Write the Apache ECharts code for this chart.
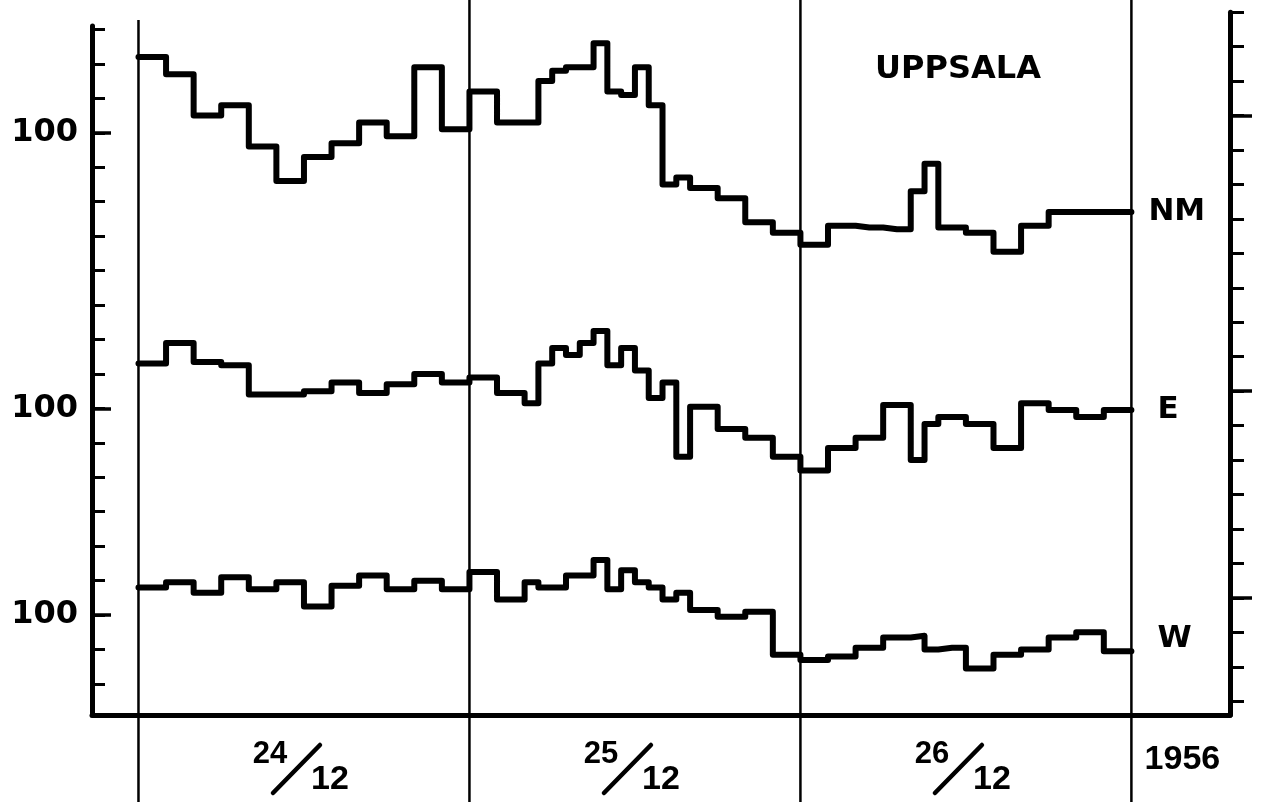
<!DOCTYPE html>
<html>
<head>
<meta charset="utf-8">
<title>Uppsala 24-26/12 1956</title>
<script src="https://cdn.jsdelivr.net/npm/echarts@6/dist/echarts.min.js"></script>
<style>
  html, body { margin: 0; padding: 0; background: #fff; }
  #main { width: 1266px; height: 802px; }
</style>
</head>
<body>
<div id="main"></div>
<script>
// hourly means, % of normal, from 00h 24/12 to 24h 26/12 1956
var nmValues = [
  102.2,102.2,101.7,101.7,100.5,100.5,100.8,100.8,99.6,99.6,98.6,98.6,
  99.3,99.3,99.7,99.7,100.3,100.3,99.9,99.9,101.9,101.9,100.1,100.1,
  101.2,101.2,100.3,100.3,100.3,101.5,101.8,101.9,101.9,102.6,101.2,101.1,
  101.9,100.8,98.5,98.7,98.4,98.4,98.1,98.1,97.4,97.4,97.1,97.1,
  96.75,96.75,97.3,97.3,97.25,97.25,97.2,97.2,98.3,99.1,97.25,97.25,
  97.1,97.1,96.55,96.55,97.3,97.3,97.7,97.7,97.7,97.7,97.7,97.7
];
var eValues = [
  101.3,101.3,101.9,101.9,101.35,101.35,101.25,101.25,100.4,100.4,100.4,100.4,
  100.5,100.5,100.75,100.75,100.45,100.45,100.7,100.7,101.0,101.0,100.75,100.75,
  100.9,100.9,100.45,100.45,100.15,101.3,101.75,101.55,101.9,102.25,101.25,101.75,
  101.1,100.3,100.75,98.6,100.05,100.05,99.4,99.4,99.15,99.15,98.6,98.6,
  98.2,98.2,98.85,98.85,99.15,99.15,100.1,100.1,98.5,99.55,99.75,99.75,
  99.55,99.55,98.85,98.85,100.15,100.15,99.95,99.95,99.75,99.75,99.95,99.95
];
var wValues = [
  100.8,100.8,100.95,100.95,100.65,100.65,101.1,101.1,100.75,100.75,100.95,100.95,
  100.25,100.25,100.85,100.85,101.15,101.15,100.75,100.75,101.0,101.0,100.75,100.75,
  101.25,101.25,100.45,100.45,100.95,100.8,100.8,101.15,101.15,101.6,100.75,101.3,
  100.95,100.8,100.45,100.65,100.15,100.15,99.95,99.95,100.1,100.1,98.85,98.85,
  98.7,98.7,98.8,98.8,99.05,99.05,99.35,99.35,99.4,99.0,99.05,99.05,
  98.45,98.45,98.85,98.85,99.0,99.0,99.35,99.35,99.5,99.5,98.95,98.95
];
var seriesNames = ['NM', 'E', 'W'];
var dayStarts = [0, 24, 48, 72];          // hours
var dayNumbers = ['24', '25', '26'];
var monthLabel = '12';
var yearLabel = '1956';
var refLabel = '100';

// layout: each curve has its own 100 % level on a shared 1 %-per-tick scale
var levelOf100 = { NM: 17, E: 9, W: 3 };   // tick index of each 100 % line
var PX_PER_TICK = 34.45;
var AXIS_Y = 715;
var Y_MIN = 0.1, Y_MAX_LEFT = 20.1, Y_MAX_RIGHT = 20.5;
var X_MIN = -3.37, X_MAX = 79.15;
var FONT = 'Liberation Sans, Arial, sans-serif';
var HEAVY = 'DejaVu Sans, sans-serif';

function steps(vals, name) {
  var d = vals.map(function (v, i) { return [i, v - 100 + levelOf100[name]]; });
  d.push([vals.length, d[d.length - 1][1]]);
  return d;
}

function range(a, b) {
  var r = [];
  for (var v = a; v <= b + 1e-9; v += 1) r.push(v);
  return r;
}

var leftTicks = range(1, 20);
var rightTicks = range(0.5, 20.5);
var refTicks = [levelOf100.W, levelOf100.E, levelOf100.NM];
var refTicksRight = refTicks.map(function (t) { return t + 0.5; });

var chart = echarts.init(document.getElementById('main'));

var black = '#000';
var lineSeries = [nmValues, eValues, wValues].map(function (vals, k) {
  var name = seriesNames[k];
  return {
    name: name,
    type: 'line',
    step: 'end',
    xAxisIndex: 0,
    yAxisIndex: 0,
    symbol: 'none',
    data: steps(vals, name),
    lineStyle: { color: black, width: 6, join: 'round', cap: 'round' },
    endLabel: {
      show: true,
      formatter: name,
      distance: name === 'NM' ? 17 : 26,
      offset: name === 'W' ? [0, -12] : [0, 0],
      color: black,
      fontFamily: HEAVY,
      fontWeight: 'bold',
      fontSize: 31
    },
    silent: true
  };
});

var option = {
  backgroundColor: '#fff',
  animation: false,
  grid: [
    { left: 92, right: 36, bottom: 802 - AXIS_Y, top: AXIS_Y - (Y_MAX_LEFT - Y_MIN) * PX_PER_TICK },
    { left: 92, right: 36, bottom: 802 - AXIS_Y, top: AXIS_Y - (Y_MAX_RIGHT - Y_MIN) * PX_PER_TICK }
  ],
  xAxis: [
    {
      gridIndex: 0, type: 'value', min: X_MIN, max: X_MAX,
      axisLine: { onZero: false, lineStyle: { color: black, width: 5 } },
      axisTick: { show: false },
      splitLine: { show: false },
      axisLabel: {
        customValues: [75.7],
        formatter: function () { return yearLabel; },
        margin: 28,
        color: black, fontFamily: FONT, fontWeight: 'bold', fontSize: 34
      }
    },
    { gridIndex: 1, type: 'value', min: X_MIN, max: X_MAX, show: false }
  ],
  yAxis: [
    {
      gridIndex: 0, type: 'value', position: 'left', min: Y_MIN, max: Y_MAX_LEFT,
      axisLine: { show: true, onZero: false, lineStyle: { color: black, width: 5 } },
      axisTick: { show: true, inside: true, length: 13, customValues: leftTicks, lineStyle: { color: black, width: 3 } },
      axisLabel: { show: false },
      splitLine: { show: false }
    },
    {
      gridIndex: 0, type: 'value', position: 'left', min: Y_MIN, max: Y_MAX_LEFT,
      axisLine: { show: false, onZero: false },
      axisTick: { show: true, inside: true, length: 19, customValues: refTicks, lineStyle: { color: black, width: 3.5 } },
      axisLabel: {
        customValues: refTicks,
        formatter: function () { return refLabel; },
        margin: 14, color: black, fontFamily: HEAVY, fontWeight: 'bold', fontSize: 32
      },
      splitLine: { show: false }
    },
    {
      gridIndex: 1, type: 'value', position: 'right', min: Y_MIN, max: Y_MAX_RIGHT,
      axisLine: { show: true, onZero: false, lineStyle: { color: black, width: 5 } },
      axisTick: { show: true, inside: false, length: 14, customValues: rightTicks, lineStyle: { color: black, width: 3 } },
      axisLabel: { show: false },
      splitLine: { show: false }
    },
    {
      gridIndex: 1, type: 'value', position: 'right', min: Y_MIN, max: Y_MAX_RIGHT,
      axisLine: { show: false, onZero: false },
      axisTick: { show: true, inside: false, length: 22, customValues: refTicksRight, lineStyle: { color: black, width: 3.5 } },
      axisLabel: { show: false },
      splitLine: { show: false }
    }
  ],
  graphic: [{
    type: 'text', x: 958, y: 70,
    style: { text: 'UPPSALA', align: 'center', verticalAlign: 'middle',
      font: 'bold 32px ' + HEAVY, fill: black }
  }],
  series: lineSeries.concat([
    {
      // day separators, running through the frame
      type: 'custom', xAxisIndex: 0, yAxisIndex: 0, clip: false, silent: true,
      data: dayStarts.map(function (h) { return [h]; }),
      renderItem: function (params, api) {
        var x = api.coord([api.value(0), Y_MIN])[0];
        return {
          type: 'line',
          shape: { x1: x, y1: params.dataIndex === 0 ? 20 : 0, x2: x, y2: 802 },
          style: { stroke: black, lineWidth: 2.5 }
        };
      }
    },
    {
      // date labels, written as fractions day/month
      type: 'custom', xAxisIndex: 0, yAxisIndex: 0, clip: false, silent: true,
      data: dayNumbers.map(function (d, i) { return [dayStarts[i] + 12, i]; }),
      renderItem: function (params, api) {
        var x = api.coord([api.value(0), Y_MIN])[0];
        return {
          type: 'group',
          children: [
            { type: 'text', x: x - 34, y: 754,
              style: { text: dayNumbers[params.dataIndex], align: 'center', verticalAlign: 'middle',
                font: 'bold 31px ' + FONT, fill: black } },
            { type: 'line', shape: { x1: x - 31, y1: 793, x2: x + 16, y2: 745 },
              style: { stroke: black, lineWidth: 4.5, lineCap: 'round' } },
            { type: 'text', x: x + 26, y: 780,
              style: { text: monthLabel, align: 'center', verticalAlign: 'middle',
                font: 'bold 34px ' + FONT, fill: black } }
          ]
        };
      }
    }
  ])
};

chart.setOption(option);
</script>
</body>
</html>
